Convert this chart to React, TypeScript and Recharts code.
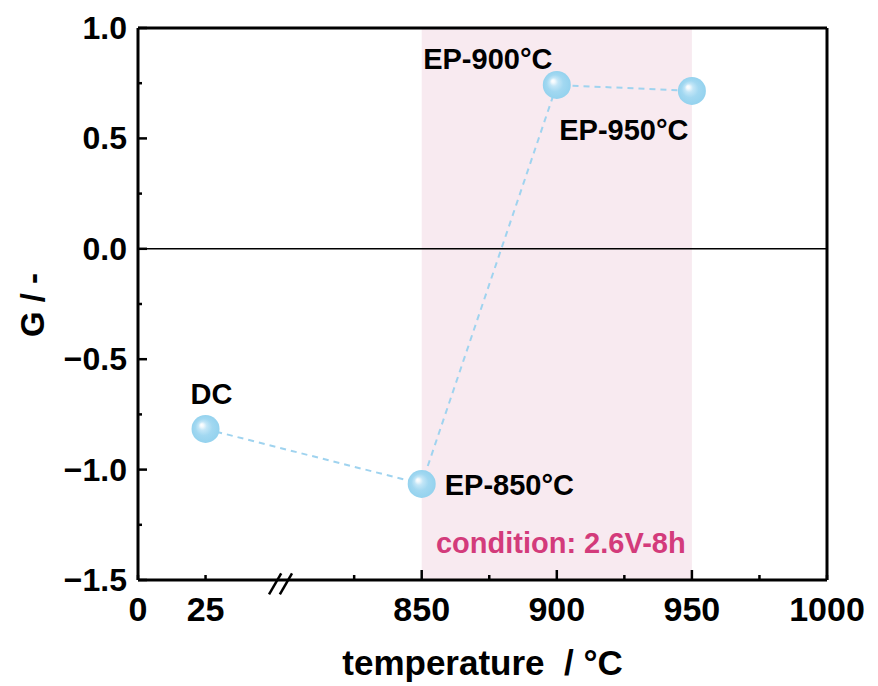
import React from 'react';
import {
  ComposedChart,
  Line,
  XAxis,
  YAxis,
  ReferenceArea,
  ReferenceLine,
  LabelList,
} from 'recharts';

// samples (temperature in °C, G value)
const sampleNames = ['DC', 'EP-850°C', 'EP-900°C', 'EP-950°C'];
const temperatures = [25, 850, 900, 950];
const gValues = [-0.816, -1.065, 0.742, 0.715];

// axis ticks
const xTickValues = [0, 25, 825, 850, 875, 900, 925, 950, 975, 1000];
const xTickLabels = [0, 25, 850, 900, 950, 1000];
const xMajorTicks = [850, 900, 950];
const yTickValues = [-1.5, -1.25, -1, -0.75, -0.5, -0.25, 0, 0.25, 0.5, 0.75, 1];
const yTickLabels = [-1.5, -1, -0.5, 0, 0.5, 1];

// broken axis: values from 850 on are shifted left
const BREAK_SHIFT = 745;
const toPos = (t: number) => (t >= 800 ? t - BREAK_SHIFT : t);
const fromPos = (p: number) => (p >= 60 ? p + BREAK_SHIFT : p);

const data = sampleNames.map((name, i) => ({
  name,
  pos: toPos(temperatures[i]),
  g: gValues[i],
}));

const FONT = '"Liberation Sans", Arial, Helvetica, sans-serif';

// where each point's label sits relative to its marker
const labelPlacement: Record<string, { dx: number; dy: number; anchor: string }> = {
  'DC': { dx: 6, dy: -35, anchor: 'middle' },
  'EP-850°C': { dx: 23, dy: 1, anchor: 'start' },
  'EP-900°C': { dx: -69, dy: -26, anchor: 'middle' },
  'EP-950°C': { dx: -68, dy: 39, anchor: 'middle' },
};

const XTick = (props: any) => {
  const { x, y, payload } = props;
  const v = fromPos(payload.value);
  const len = xMajorTicks.includes(v) ? 10 : 5;
  const showLabel = xTickLabels.includes(v);
  return (
    <g>
      <line x1={x} x2={x} y1={y} y2={y - len} stroke="#000" strokeWidth={2.5} />
      {showLabel && (
        <text x={x} y={y + 41} textAnchor="middle" fontSize={34} fontWeight="bold" fontFamily={FONT} fill="#000">
          {v}
        </text>
      )}
    </g>
  );
};

const YTick = (props: any) => {
  const { x, y, payload } = props;
  const v = payload.value;
  const major = yTickLabels.includes(v);
  const label = v < 0 ? '\u2212' + Math.abs(v).toFixed(1) : v.toFixed(1);
  return (
    <g>
      <line x1={x} x2={x + (major ? 9 : 4)} y1={y} y2={y} stroke="#000" strokeWidth={2.5} />
      {major && (
        <text x={x - 11} y={y + 11} textAnchor="end" fontSize={32} fontWeight="bold" fontFamily={FONT} fill="#000">
          {label}
        </text>
      )}
    </g>
  );
};

const SphereDot = (props: any) => {
  const { cx, cy, index } = props;
  if (cx == null || cy == null) return null;
  const id = `sphere-${index}`;
  return (
    <g key={id}>
      <defs>
        <radialGradient id={id} cx="0.5" cy="0.5" r="0.5" fx="0.35" fy="0.35">
          <stop offset="0" stopColor="#ffffff" />
          <stop offset="0.12" stopColor="#f2f9fd" />
          <stop offset="0.3" stopColor="#c3e6f7" />
          <stop offset="0.6" stopColor="#a2d8f1" />
          <stop offset="1" stopColor="#94d2ee" />
        </radialGradient>
      </defs>
      <circle cx={cx} cy={cy} r={14} fill={`url(#${id})`} />
    </g>
  );
};

const PointLabel = (props: any) => {
  const { x, y, value } = props;
  const p = labelPlacement[value];
  if (!p) return null;
  return (
    <text
      x={x + p.dx}
      y={y + p.dy}
      dy={10}
      textAnchor={p.anchor as any}
      fontSize={29}
      fontWeight="bold"
      fontFamily={FONT}
      fill="#000"
    >
      {value}
    </text>
  );
};

const ConditionLabel = (props: any) => {
  const { viewBox } = props;
  const { x, y, width, height } = viewBox;
  return (
    <text
      x={x + width / 2 + 4}
      y={y + height - 27}
      textAnchor="middle"
      fontSize={29}
      fontWeight="bold"
      fontFamily={FONT}
      fill="#d33b7b"
    >
      condition: 2.6V-8h
    </text>
  );
};

const XTitle = (props: any) => {
  const { viewBox } = props;
  return (
    <text
      x={viewBox.x + viewBox.width / 2}
      y={663}
      dy={12}
      textAnchor="middle"
      fontSize={35}
      fontWeight="bold"
      fontFamily={FONT}
      fill="#000"
      style={{ whiteSpace: 'pre' }}
    >
      {'temperature\u00a0 / °C'}
    </text>
  );
};

const YTitle = () => (
  <text
    x={33}
    y={305}
    dy={11}
    transform="rotate(-90 33 305)"
    textAnchor="middle"
    fontSize={33}
    fontWeight="bold"
    fontFamily={FONT}
    fill="#000"
  >
    G / -
  </text>
);

export default function App() {
  return (
    <div style={{ position: 'absolute', left: 0, top: 0, background: '#fff' }}>
      <ComposedChart
        width={878}
        height={686}
        data={data}
        margin={{ top: 28, right: 51, left: 0, bottom: 0 }}
      >
        <ReferenceArea
          x1={toPos(850)}
          x2={toPos(950)}
          y1={-1.5}
          y2={1}
          fill="#f8eaf0"
          fillOpacity={1}
          stroke="none"
          label={<ConditionLabel />}
        />
        <ReferenceLine y={0} stroke="#000" strokeWidth={1.5} />
        <XAxis
          dataKey="pos"
          type="number"
          domain={[0, toPos(1000)]}
          ticks={xTickValues.map(toPos)}
          interval={0}
          height={106}
          tickSize={0}
          tickMargin={0}
          tick={<XTick />}
          axisLine={{ stroke: '#000', strokeWidth: 3 }}
          label={<XTitle />}
        />
        <YAxis
          type="number"
          domain={[-1.5, 1]}
          ticks={yTickValues}
          interval={0}
          width={138}
          tickSize={0}
          tickMargin={0}
          tick={<YTick />}
          axisLine={{ stroke: '#000', strokeWidth: 3 }}
          label={<YTitle />}
        />
        {/* box frame */}
        <ReferenceLine y={1} stroke="#000" strokeWidth={3} />
        <ReferenceLine x={toPos(1000)} stroke="#000" strokeWidth={3} />
        {/* axis break marks */}
        <ReferenceLine
          segment={[{ x: 48.5, y: -1.565 }, { x: 53, y: -1.47 }]}
          stroke="#000"
          strokeWidth={2.5}
          ifOverflow="visible"
        />
        <ReferenceLine
          segment={[{ x: 52.5, y: -1.565 }, { x: 57, y: -1.47 }]}
          stroke="#000"
          strokeWidth={2.5}
          ifOverflow="visible"
        />
        <Line
          dataKey="g"
          stroke="#9fd3ef"
          strokeWidth={2}
          strokeDasharray="6 5"
          dot={<SphereDot />}
          activeDot={false}
          isAnimationActive={false}
        >
          <LabelList dataKey="name" content={<PointLabel />} />
        </Line>
      </ComposedChart>
    </div>
  );
}
